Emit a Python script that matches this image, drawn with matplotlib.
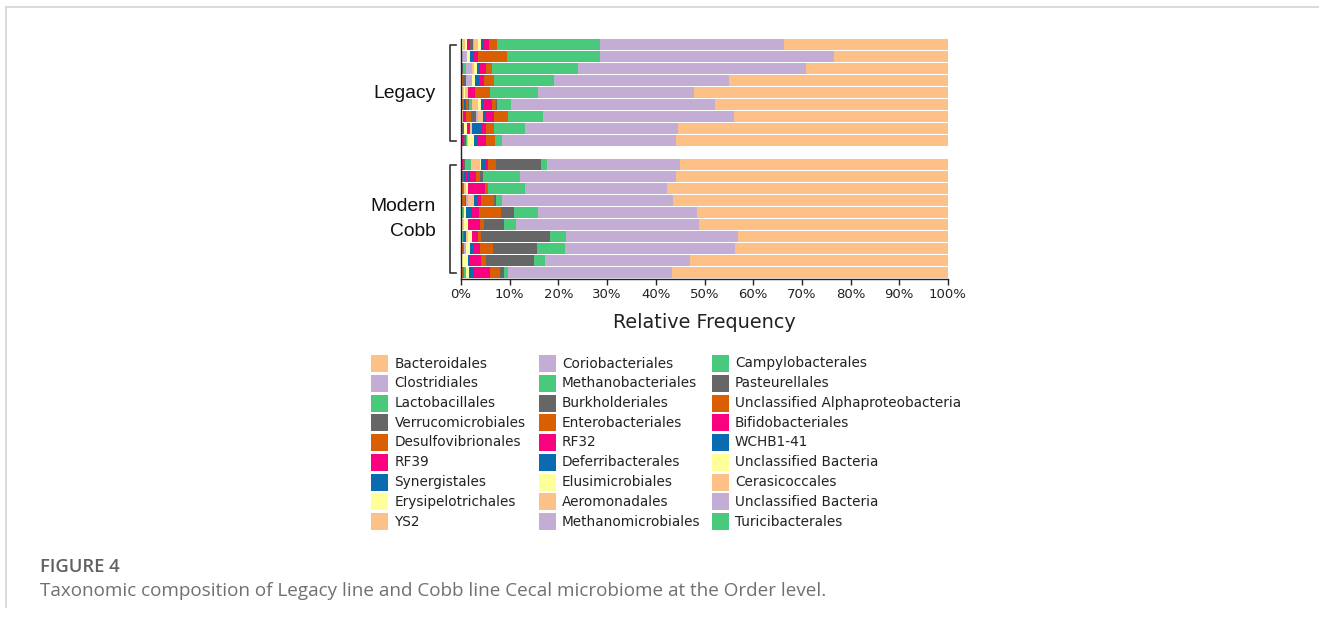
import matplotlib
matplotlib.use("Agg")
import matplotlib.pyplot as plt
from matplotlib.patches import Rectangle
from matplotlib.lines import Line2D
import numpy as np

# ---- data: relative frequency (%) per sample, 9 Legacy then 10 Modern Cobb ----
group_labels = ["Legacy", "Modern\nCobb"]
n_legacy = 9
n_modern = 10

bacteroidales = [33.7, 23.4, 29.2, 45.0, 52.2, 47.9, 44.0, 55.4, 55.9,
                 55.0, 55.9, 57.7, 56.5, 51.5, 51.1, 43.1, 43.7, 53.0, 56.7]
clostridiales = [37.7, 48.0, 46.7, 35.87, 31.94, 41.85, 39.1, 31.5, 35.6,
                 27.3, 31.9, 29.2, 35.03, 32.6, 37.55, 35.3, 34.9, 29.71, 33.73]
lactobacillales = [21.15, 19.1, 17.67, 12.26, 9.86, 2.8, 7.2, 6.26, 1.44,
                   1.23, 7.59, 7.52, 1.3, 4.92, 2.46, 3.3, 5.74, 2.26, 0.69]
verrucomicrobiales = [0, 0, 0, 0, 0, 0.34, 0, 0, 0,
                      9.23, 0.68, 0, 0.34, 2.67, 4.1, 14.14, 9.03, 9.84, 0.82]
desulfovibrionales = [1.67, 5.95, 1.3, 2.12, 3.07, 0.82, 2.87, 1.64, 1.85,
                      1.78, 0.82, 0.68, 2.73, 4.51, 0.82, 0.61, 2.66, 1.03, 2.19]
rf39 = [1.03, 0.88, 1.23, 0.96, 1.56, 1.71, 1.64, 0.96, 1.85,
        0.41, 1.23, 3.55, 0.55, 1.44, 2.6, 1.37, 1.44, 2.39, 3.28]
synergistales = [0.68, 0.76, 0.55, 0.89, 0, 0.48, 0.62, 1.91, 0.62,
                 0.89, 0.55, 0, 0.82, 1.37, 0, 0, 0.62, 0.27, 1.02]
erysipelotrichales = [0.55, 0.61, 0.68, 0.55, 0, 0.55, 0, 0, 1.23,
                      0.2, 0, 0.41, 0, 0.41, 0.82, 0.81, 0.82, 0.82, 0]
ys2 = [0.8, 0, 0.48, 0, 0.48, 1.23, 1.16, 0.41, 0.27,
       1.85, 0, 0.41, 1.23, 0, 0.27, 0.28, 0, 0, 0]
coriobacteriales = [0.2, 1.03, 1.23, 1.23, 0, 0, 0.41, 0, 0,
                    0, 0, 0, 0.41, 0, 0, 0, 0.55, 0, 0]
methanobacteriales = [0, 0, 0.48, 0, 0, 0.68, 0, 0, 0.27,
                      1.23, 0, 0, 0, 0.27, 0, 0, 0, 0, 0]
burkholderiales = [0.7, 0, 0, 0.62, 0, 0.27, 0.96, 0, 0.41,
                   0.47, 0, 0, 0.2, 0.27, 0, 0, 0, 0, 0]
enterobacteriales = [0, 0, 0, 0.48, 0, 0.27, 0.96, 0, 0,
                     0, 0, 0.27, 0.62, 0, 0, 0, 0.27, 0, 0]
rf32 = [0.6, 0, 0, 0, 0, 0, 0.68, 0.68, 0.27,
        0.41, 0.34, 0, 0.27, 0, 0, 0, 0.26, 0, 0]
deferribacterales = [0, 0, 0, 0, 0, 0.48, 0, 0, 0,
                     0, 0.34, 0, 0, 0, 0.27, 0.41, 0, 0, 0]
elusimicrobiales = [0.4, 0, 0, 0, 0.34, 0, 0, 0.62, 0,
                    0, 0, 0.27, 0, 0, 0, 0, 0, 0.41, 0.55]
aeromonadales = [0.35, 0, 0, 0, 0.28, 0, 0.41, 0, 0,
                 0, 0, 0, 0, 0, 0, 0, 0, 0, 0]
methanomicrobiales = [0, 0, 0, 0, 0, 0, 0, 0, 0,
                      0, 0, 0, 0, 0, 0, 0, 0, 0, 0]
campylobacterales = [0, 0, 0, 0, 0, 0, 0, 0, 0.27,
                     0, 0, 0, 0, 0, 0, 0, 0, 0, 0.34]
pasteurellales = [0, 0, 0.2, 0, 0, 0, 0, 0.34, 0,
                  0, 0.34, 0, 0, 0, 0, 0.27, 0, 0, 0]
unclassified_alphaproteobacteria = [0, 0, 0, 0, 0, 0.34, 0, 0, 0,
                                    0, 0, 0, 0, 0, 0, 0, 0, 0, 0.41]
bifidobacteriales = [0, 0, 0, 0, 0, 0, 0, 0, 0,
                     0, 0, 0, 0, 0, 0, 0, 0, 0, 0]
wchb1_41 = [0, 0, 0, 0, 0.27, 0.27, 0, 0, 0,
            0, 0, 0, 0, 0, 0, 0, 0, 0, 0.27]
unclassified_bacteria_1 = [0.2, 0, 0, 0, 0, 0, 0, 0, 0,
                           0, 0.27, 0, 0, 0, 0, 0, 0, 0, 0]
cerasicoccales = [0, 0, 0, 0, 0, 0, 0, 0, 0,
                  0, 0, 0, 0, 0, 0, 0, 0, 0, 0]
unclassified_bacteria_2 = [0, 0, 0, 0, 0, 0, 0, 0, 0,
                           0, 0, 0, 0, 0, 0, 0, 0, 0, 0]
turicibacterales = [0.27, 0.27, 0.27, 0, 0, 0, 0, 0.27, 0,
                    0, 0, 0, 0, 0, 0, 0.41, 0, 0.27, 0]

order_names = [
    "Bacteroidales", "Clostridiales", "Lactobacillales", "Verrucomicrobiales",
    "Desulfovibrionales", "RF39", "Synergistales", "Erysipelotrichales", "YS2",
    "Coriobacteriales", "Methanobacteriales", "Burkholderiales",
    "Enterobacteriales", "RF32", "Deferribacterales", "Elusimicrobiales",
    "Aeromonadales", "Methanomicrobiales", "Campylobacterales", "Pasteurellales",
    "Unclassified Alphaproteobacteria", "Bifidobacteriales", "WCHB1-41",
    "Unclassified Bacteria", "Cerasicoccales", "Unclassified Bacteria",
    "Turicibacterales",
]
order_values = [
    bacteroidales, clostridiales, lactobacillales, verrucomicrobiales,
    desulfovibrionales, rf39, synergistales, erysipelotrichales, ys2,
    coriobacteriales, methanobacteriales, burkholderiales,
    enterobacteriales, rf32, deferribacterales, elusimicrobiales,
    aeromonadales, methanomicrobiales, campylobacterales, pasteurellales,
    unclassified_alphaproteobacteria, bifidobacteriales, wchb1_41,
    unclassified_bacteria_1, cerasicoccales, unclassified_bacteria_2,
    turicibacterales,
]

palette = ["#FDC086", "#C3ADD5", "#49C97C", "#666666",
           "#D95F02", "#F8027F", "#0A6BB0", "#FFFF99"]
colors = [palette[i % len(palette)] for i in range(len(order_names))]

# ---- figure ----
W, H = 1319, 624
fig = plt.figure(figsize=(W / 100, H / 100), dpi=100)


def fx(x):
    return x / W


def fy(y):
    return 1 - y / H


# page frame
frame_kw = dict(color="#d4d4d4", lw=1.2, transform=fig.transFigure)
fig.add_artist(Line2D([fx(6), fx(W)], [fy(7), fy(7)], **frame_kw))
fig.add_artist(Line2D([fx(6), fx(6)], [fy(7), fy(607)], **frame_kw))

ax = fig.add_axes([fx(461), fy(278.5), 487 / W, 240 / H])

positions = np.r_[np.arange(n_legacy), np.arange(n_legacy + 1, n_legacy + 1 + n_modern)]
left = np.zeros(len(positions))
# stack from the smallest orders on the left to Bacteroidales on the right
for name, vals, col in reversed(list(zip(order_names, order_values, colors))):
    vals = np.asarray(vals, dtype=float)
    ax.barh(positions, vals, left=left, height=0.9, color=col, linewidth=0)
    left += vals

ax.set_xlim(0, 100)
ax.set_ylim(n_legacy + n_modern + 0.5, -0.5)
ax.set_yticks([])
ticks = list(range(0, 101, 10))
ax.set_xticks(ticks)
ax.set_xticklabels([f"{t}%" for t in ticks], fontsize=9.5, color="#222222",
                   family="DejaVu Sans")
ax.tick_params(axis="x", length=4, width=1, color="#222222", pad=3)
for side in ("top", "right"):
    ax.spines[side].set_visible(False)
for side in ("left", "bottom"):
    ax.spines[side].set_color("#222222")
    ax.spines[side].set_linewidth(1.0)

fig.text(fx(704.5), fy(322), "Relative Frequency", ha="center", va="center",
         fontsize=13.9, color="#222222", family="DejaVu Sans")

# group brackets and labels
group_spans = [(0, n_legacy - 1), (n_legacy + 1, n_legacy + n_modern)]
btrans = matplotlib.transforms.blended_transform_factory(fig.transFigure, ax.transData)
for label, (a, b) in zip(group_labels, group_spans):
    xs = [fx(456), fx(449.5), fx(449.5), fx(456)]
    ax.add_artist(Line2D(xs, [a, a, b, b], color="#333333", lw=1.2,
                         transform=btrans, clip_on=False))
    ax.text(fx(436), (a + b) / 2 + 0.05, label, transform=btrans, ha="right",
            va="center", multialignment="right", fontsize=13.9,
            family="Liberation Sans", color="#111111", linespacing=1.6)

# legend, three columns of nine
col_x = [371, 538.5, 711.5]
for i, (name, col) in enumerate(zip(order_names, colors)):
    c, r = divmod(i, 9)
    yc = 363.5 + r * 19.75
    fig.add_artist(Rectangle((fx(col_x[c]), fy(yc + 8.5)), 17 / W, 17 / H,
                             transform=fig.transFigure, facecolor=col,
                             edgecolor="none"))
    fig.text(fx(col_x[c] + 23.5), fy(yc), name, ha="left", va="center",
             fontsize=9.8, color="#222222", family="DejaVu Sans")

# caption
renderer = fig.canvas.get_renderer()


def fitted_text(x, y, s, width_px, **kw):
    t = fig.text(fx(x), fy(y), s, ha="left", va="center", **kw)
    w = t.get_window_extent(renderer).width
    t.set_fontsize(t.get_fontsize() * width_px / w)
    return t


fitted_text(40, 567, "FIGURE 4", 80, fontsize=12, color="#606060",
            family="Open Sans", fontweight="semibold")
fitted_text(40, 591, "Taxonomic composition of Legacy line and Cobb line Cecal "
            "microbiome at the Order level.", 780, fontsize=12,
            color="#707070", family="Open Sans")

fig.savefig("out.png", dpi=100)
